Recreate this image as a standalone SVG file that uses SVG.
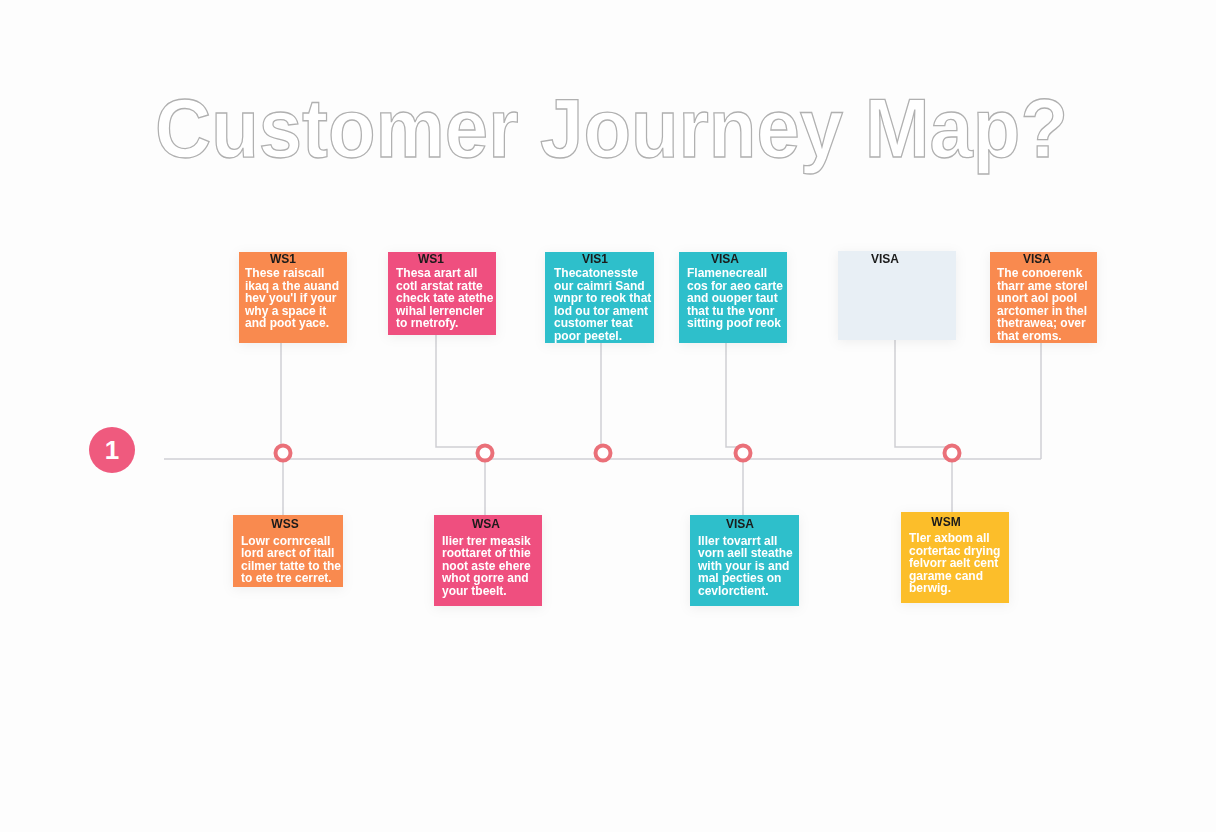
<svg xmlns="http://www.w3.org/2000/svg" width="1216" height="832" viewBox="0 0 1216 832">
<defs>
<style>
.title{font-family:"Liberation Sans",Arial,sans-serif;font-size:83px;font-weight:bold;fill:#ffffff;stroke:#b0b0b0;stroke-width:1.3px}
.hd{font-family:"Liberation Sans",Arial,sans-serif;font-size:12px;font-weight:bold;fill:#1a1a1a}
.tx{font-family:"Liberation Sans",Arial,sans-serif;font-size:12px;font-weight:bold;fill:#ffffff}
.orange{fill:#F98A4F}
.pink{fill:#EF4F7F}
.teal{fill:#2EBFCB}
.light{fill:#E8EFF5}
.yellow{fill:#FCBE2C}
.conn{fill:none;stroke:#cfcfd4;stroke-width:1.5}
.dot{fill:#ffffff;stroke:#EA7079;stroke-width:4}
</style>
<filter id="sh" x="-20%" y="-20%" width="140%" height="140%">
<feDropShadow dx="0" dy="2" stdDeviation="6" flood-color="#000" flood-opacity="0.06"/>
</filter>
</defs>
<rect width="1216" height="832" fill="#fdfdfd"/>
<text class="title" x="155" y="157" textLength="913" lengthAdjust="spacingAndGlyphs">Customer Journey Map?</text>

<g id="connectors">
<line class="conn" x1="164" y1="459" x2="1041" y2="459"/>
<polyline class="conn" points="281,343 281,445"/>
<polyline class="conn" points="436,335 436,447 485,447"/>
<polyline class="conn" points="601,343 601,445"/>
<polyline class="conn" points="726,343 726,447 743,447"/>
<polyline class="conn" points="895,340 895,447 952,447"/>
<polyline class="conn" points="1041,343 1041,459"/>
<line class="conn" x1="283" y1="461" x2="283" y2="515"/>
<line class="conn" x1="485" y1="461" x2="485" y2="515"/>
<line class="conn" x1="743" y1="461" x2="743" y2="515"/>
<line class="conn" x1="952" y1="461" x2="952" y2="512"/>
</g>

<g id="start">
<circle cx="112" cy="450" r="23" fill="#EF5A7E"/>
<text x="112" y="459" text-anchor="middle" font-family="Liberation Sans, Arial, sans-serif" font-size="26" font-weight="bold" fill="#ffffff">1</text>
</g>

<g id="dots">
<circle class="dot" cx="283" cy="453" r="7.5"/>
<circle class="dot" cx="485" cy="453" r="7.5"/>
<circle class="dot" cx="603" cy="453" r="7.5"/>
<circle class="dot" cx="743" cy="453" r="7.5"/>
<circle class="dot" cx="952" cy="453" r="7.5"/>
</g>

<g id="top1" filter="url(#sh)">
<rect class="orange" x="239" y="252" width="108" height="91"/>
<text class="hd" x="283" y="263" text-anchor="middle">WS1</text>
<text class="tx"><tspan x="245" y="277">These  raiscall</tspan><tspan x="245" y="289.5">ikaq a the auand</tspan><tspan x="245" y="302">hev you'l if your</tspan><tspan x="245" y="314.5">why a space it</tspan><tspan x="245" y="327">and poot yace.</tspan></text>
</g>

<g id="top2" filter="url(#sh)">
<rect class="pink" x="388" y="252" width="108" height="83"/>
<text class="hd" x="431" y="263" text-anchor="middle">WS1</text>
<text class="tx"><tspan x="396" y="277">Thesa arart all</tspan><tspan x="396" y="289.5">cotl arstat ratte</tspan><tspan x="396" y="302">check tate atethe</tspan><tspan x="396" y="314.5">wihal lerrencler</tspan><tspan x="396" y="327">to rnetrofy.</tspan></text>
</g>

<g id="top3" filter="url(#sh)">
<rect class="teal" x="545" y="252" width="109" height="91"/>
<text class="hd" x="595" y="263" text-anchor="middle">VIS1</text>
<text class="tx"><tspan x="554" y="277">Thecatonesste</tspan><tspan x="554" y="289.5">our caimri Sand</tspan><tspan x="554" y="302">wnpr to reok that</tspan><tspan x="554" y="314.5">lod ou tor ament</tspan><tspan x="554" y="327">customer teat</tspan><tspan x="554" y="339.5">poor peetel.</tspan></text>
</g>

<g id="top4" filter="url(#sh)">
<rect class="teal" x="679" y="252" width="108" height="91"/>
<text class="hd" x="725" y="263" text-anchor="middle">VISA</text>
<text class="tx"><tspan x="687" y="277">Flamenecreall</tspan><tspan x="687" y="289.5">cos for aeo carte</tspan><tspan x="687" y="302">and ouoper taut</tspan><tspan x="687" y="314.5">that tu the vonr</tspan><tspan x="687" y="327">sitting poof reok</tspan></text>
</g>

<g id="top5" filter="url(#sh)">
<rect class="light" x="838" y="251" width="118" height="89"/>
<text class="hd" x="885" y="263" text-anchor="middle">VISA</text>
</g>

<g id="top6" filter="url(#sh)">
<rect class="orange" x="990" y="252" width="107" height="91"/>
<text class="hd" x="1037" y="263" text-anchor="middle">VISA</text>
<text class="tx"><tspan x="997" y="277">The conoerenk</tspan><tspan x="997" y="289.5">tharr ame storel</tspan><tspan x="997" y="302">unort aol pool</tspan><tspan x="997" y="314.5">arctomer in thel</tspan><tspan x="997" y="327">thetrawea; over</tspan><tspan x="997" y="339.5">that eroms.</tspan></text>
</g>

<g id="bot1" filter="url(#sh)">
<rect class="orange" x="233" y="515" width="110" height="72"/>
<text class="hd" x="285" y="528" text-anchor="middle">WSS</text>
<text class="tx"><tspan x="241" y="545">Lowr cornrceall</tspan><tspan x="241" y="557">lord arect of itall</tspan><tspan x="241" y="570">cilmer tatte to the</tspan><tspan x="241" y="582">to ete tre cerret.</tspan></text>
</g>

<g id="bot2" filter="url(#sh)">
<rect class="pink" x="434" y="515" width="108" height="91"/>
<text class="hd" x="486" y="528" text-anchor="middle">WSA</text>
<text class="tx"><tspan x="442" y="545">Ilier trer measik</tspan><tspan x="442" y="557">roottaret of thie</tspan><tspan x="442" y="570">noot aste ehere</tspan><tspan x="442" y="582">whot gorre and</tspan><tspan x="442" y="595">your tbeelt.</tspan></text>
</g>

<g id="bot3" filter="url(#sh)">
<rect class="teal" x="690" y="515" width="109" height="91"/>
<text class="hd" x="740" y="528" text-anchor="middle">VISA</text>
<text class="tx"><tspan x="698" y="545">Iller tovarrt all</tspan><tspan x="698" y="557">vorn aell steathe</tspan><tspan x="698" y="570">with your is and</tspan><tspan x="698" y="582">mal pecties on</tspan><tspan x="698" y="595">cevlorctient.</tspan></text>
</g>

<g id="bot4" filter="url(#sh)">
<rect class="yellow" x="901" y="512" width="108" height="91"/>
<text class="hd" x="946" y="526" text-anchor="middle">WSM</text>
<text class="tx"><tspan x="909" y="542">Tler axbom all</tspan><tspan x="909" y="555">cortertac drying</tspan><tspan x="909" y="567">felvorr aelt cent</tspan><tspan x="909" y="580">garame cand</tspan><tspan x="909" y="592">berwig.</tspan></text>
</g>
</svg>
